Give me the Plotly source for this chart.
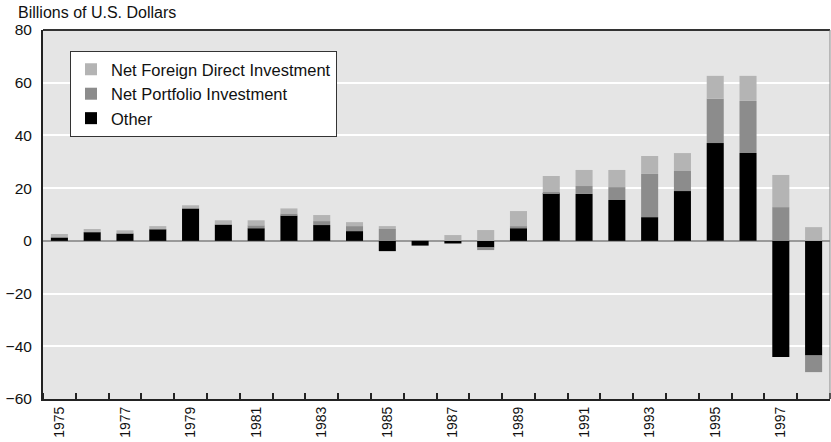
import plotly.graph_objects as go

years = list(range(1975, 1999))
other = [1.3, 3.3, 2.8, 4.4, 12.3, 6.2, 4.8, 9.6, 6.0, 3.7, -3.9, -1.8, -1.0, -2.5,
         4.8, 18.1, 17.8, 15.5, 9.0, 18.9, 37.1, 33.3, -44.1, -43.5]
portfolio = [0.0, 0.0, 0.0, 0.0, 0.0, 0.0, 1.1, 0.8, 1.5, 1.9, 4.5, 0.0, 0.0, -1.0,
             0.8, 0.4, 3.0, 4.9, 16.4, 7.6, 16.8, 19.8, 12.8, -6.3]
fdi = [1.3, 1.2, 1.2, 1.2, 1.2, 1.6, 1.9, 1.9, 2.3, 1.5, 1.1, 0.0, 2.2, 4.1,
       5.7, 6.1, 6.1, 6.5, 6.8, 6.8, 8.7, 9.5, 12.2, 5.2]
label_years = list(range(1975, 1998, 2))
y_ticks = [-60, -40, -20, 0, 20, 40, 60, 80]

fig = go.Figure()
fig.add_trace(go.Bar(x=years, y=other, name="Other", marker_color="#000000",
                     marker_line_width=0, width=0.52))
fig.add_trace(go.Bar(x=years, y=portfolio, name="Net Portfolio Investment",
                     marker_color="#8c8c8c", marker_line_width=0, width=0.52))
fig.add_trace(go.Bar(x=years, y=fdi, name="Net Foreign Direct Investment",
                     marker_color="#b4b4b4", marker_line_width=0, width=0.52))

fig.update_layout(
    width=831, height=442,
    barmode="relative",
    paper_bgcolor="#ffffff",
    plot_bgcolor="#e5e5e5",
    margin=dict(l=43, r=1, t=30, b=43),
    font=dict(family="Liberation Sans, Arial, sans-serif", color="#111111", size=14),
    showlegend=True,
    legend=dict(
        x=0.0343, y=0.943, xanchor="left", yanchor="top",
        bgcolor="#ffffff", bordercolor="#333333", borderwidth=1,
        traceorder="reversed",
        font=dict(size=16.5, family="Liberation Sans, Arial, sans-serif", color="#111111"),
    ),
    xaxis=dict(
        range=[1974.5, 1998.5],
        tickmode="array", tickvals=label_years, ticktext=[str(y) for y in label_years],
        tickangle=-90, ticks="", showgrid=False, zeroline=False,
        tickfont=dict(size=14, family="Liberation Sans, Arial, sans-serif"),
        showline=True, linecolor="#222222", linewidth=2, mirror=False,
        minor=dict(tickmode="linear", tick0=1974.5, dtick=1, ticks="inside",
                   ticklen=6, tickwidth=1.5, tickcolor="#222222", showgrid=False),
    ),
    yaxis=dict(
        range=[-60, 80], tickmode="array", tickvals=y_ticks,
        showgrid=True, gridcolor="#ffffff", gridwidth=1.5,
        zeroline=True, zerolinecolor="#999999", zerolinewidth=2,
        showline=True, linecolor="#222222", linewidth=2, mirror=False,
        ticks="", tickfont=dict(size=15.5), ticklabelstandoff=6,
    ),
    shapes=[
        dict(type="line", xref="paper", yref="paper", x0=0, x1=1, y0=1, y1=1,
             line=dict(color="#333333", width=2)),
        dict(type="line", xref="paper", yref="paper", x0=1, x1=1, y0=0, y1=1,
             line=dict(color="#888888", width=1)),
    ],
    annotations=[
        dict(text="Billions of U.S. Dollars", xref="paper", yref="paper",
             x=-0.033, y=1.0, xanchor="left", yanchor="bottom", yshift=8,
             showarrow=False, borderpad=0, font=dict(size=16, color="#111111")),
    ],
)

fig.write_html("out.html", config={"displayModeBar": False},
               post_script="document.body.style.margin='0px';")
